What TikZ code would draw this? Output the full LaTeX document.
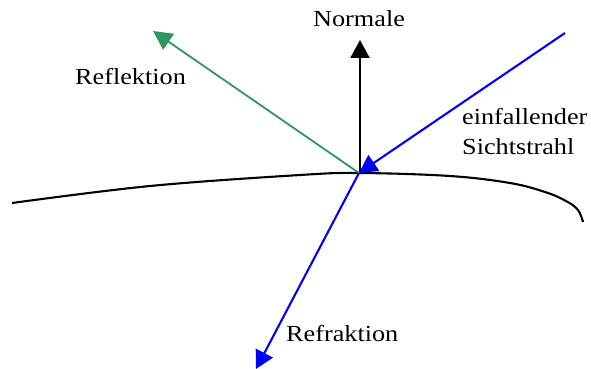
\documentclass[tikz,border=0pt]{standalone}
\usepackage{fontspec}
\setmainfont{Liberation Serif}[FakeStretch=1.14]
\usetikzlibrary{arrows.meta}
\definecolor{reflgreen}{RGB}{46,150,96}
\begin{document}
\begin{tikzpicture}[x=1pt,y=-1pt,
  lbl/.style={inner sep=0pt,font=\fontsize{23}{30}\selectfont},
  ray/.style={line width=2.1pt,-{Triangle[length=18pt,width=19pt]}}]
\useasboundingbox (0,0) rectangle (591,369);
% surface
\draw[line width=2.1pt] plot[smooth,tension=0.6] coordinates {(12,203) (150,186) (300,175) (360,173) (450,176) (510,183) (545,192) (566,201) (578,210) (583,222)};
\coordinate (P) at (359,173);
\coordinate (N) at (360,40);
\coordinate (S) at (565,33);
\coordinate (G) at (153,31);
\coordinate (R) at (256,369);
\draw[ray,black] (360,173) -- (N);
\draw[ray,blue] (S) -- (P);
\draw[ray,reflgreen,line width=1.8pt,-{Triangle[length=19pt,width=19pt]}] (P) -- (G);
\draw[ray,blue] (P) -- (R);
\node[lbl,anchor=base west] (normale) at (313,27) {Normale};
\node[lbl,anchor=base west] (refl) at (75,84) {Reflektion};
\node[lbl,anchor=north west,align=left] (einf) at (462,108) {einfallender\\Sichtstrahl};
\node[lbl,anchor=base west] (refr) at (286,341) {Refraktion};
\end{tikzpicture}
\end{document}
